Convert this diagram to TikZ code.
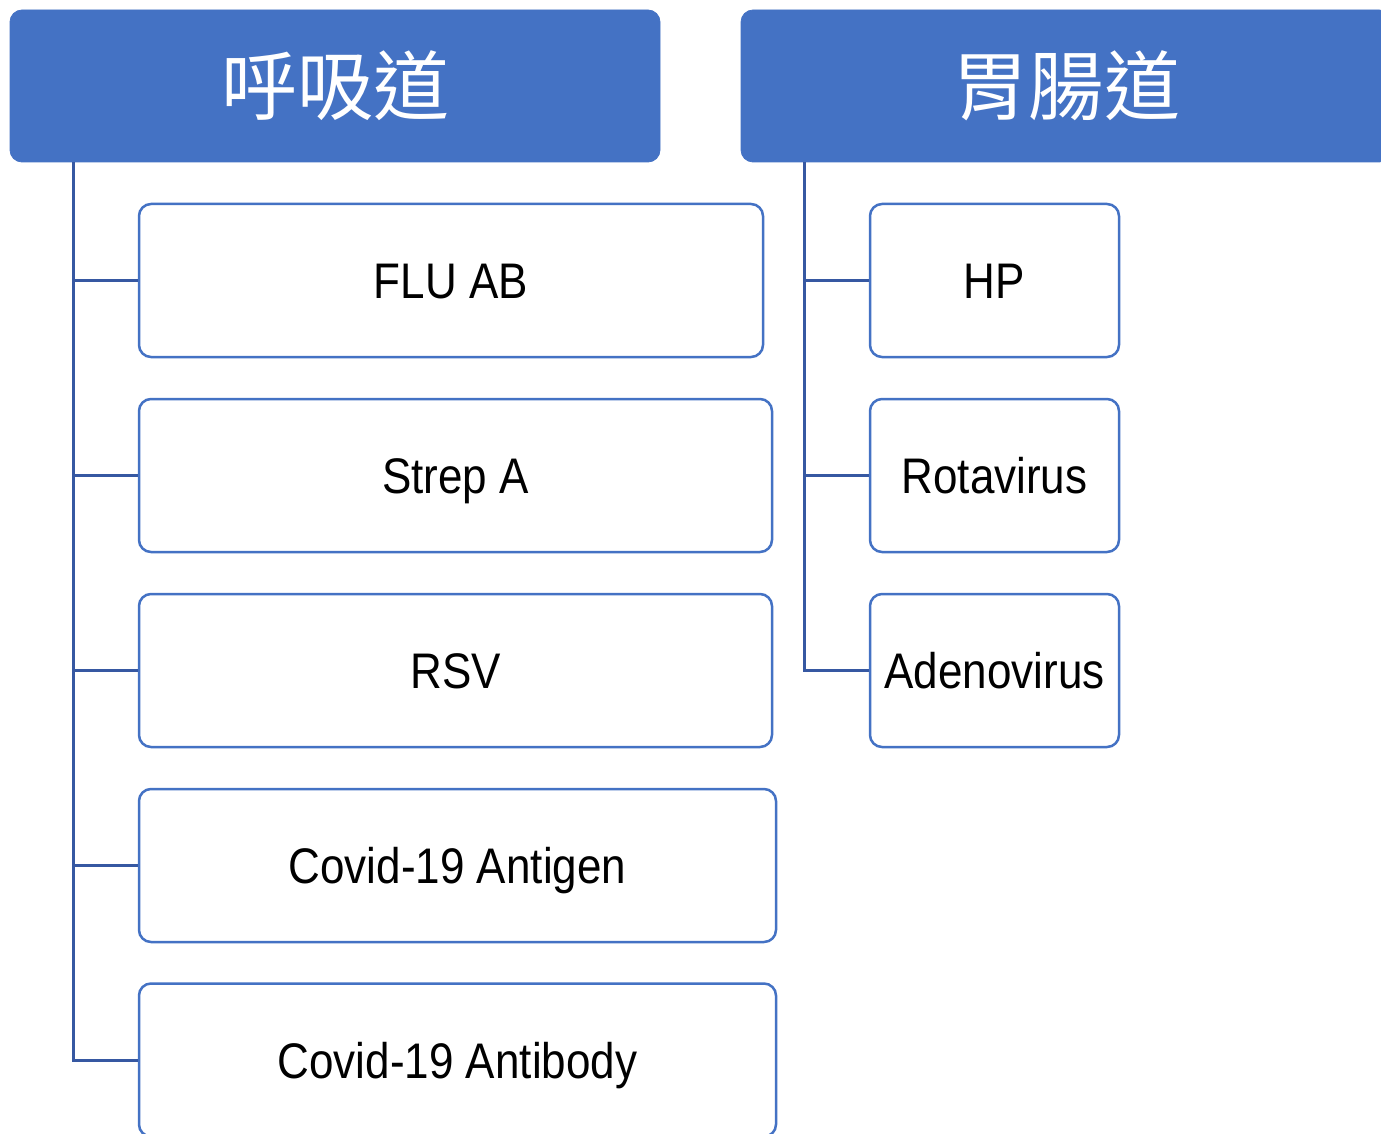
\documentclass[tikz,border=0pt]{standalone}
\usepackage{fontspec}
\setmainfont{Liberation Sans}[FakeStretch=0.88]
\newfontfamily\cjk{Noto Sans CJK TC}
\definecolor{hdr}{HTML}{4472C4}
\definecolor{conn}{RGB}{54,88,162}
\begin{document}
\begin{tikzpicture}[x=0.5pt,y=-0.5pt,
  header/.style={draw=hdr, fill=hdr, rounded corners=6pt, text=white,
    font=\cjk\fontsize{38}{40}\selectfont, minimum width=325pt,
    minimum height=76pt, inner sep=0pt},
  item/.style={draw=hdr, line width=1.25pt, fill=white, rounded corners=6pt,
    font=\fontsize{25}{28}\selectfont, minimum height=76.5pt, inner sep=0pt,
    text height=18pt, text depth=0pt},
  link/.style={draw=conn, line width=1.5pt}]
\useasboundingbox (0,0) rectangle (1381,1134);
\clip (0,0) rectangle (1381,1134);
% headers
\node[header] (h1) at (335,86) {呼吸道};
\node[header] (h2) at (1066,86) {胃腸道};
% left items
\node[item, minimum width=312pt] (flu) at (451,280.5) {FLU AB};
\node[item, minimum width=316.5pt] (strep) at (455.5,475.5) {Strep A};
\node[item, minimum width=316.5pt] (rsv) at (455.5,670.5) {RSV};
\node[item, minimum width=318.5pt] (cag) at (457.5,865.5) {Covid-19 Antigen};
\node[item, minimum width=318.5pt] (cab) at (457.5,1060) {Covid-19 Antibody};
% right items
\node[item, minimum width=124.5pt] (hp) at (994.5,280.5) {HP};
\node[item, minimum width=124.5pt] (rota) at (994.5,475.5) {Rotavirus};
\node[item, minimum width=124.5pt] (adeno) at (994.5,670.5) {Adenovirus};
% connectors
\foreach \c in {flu,strep,rsv,cag,cab}
  \draw[link] ([xshift=32pt]h1.south west) |- (\c.west);
\foreach \c in {hp,rota,adeno}
  \draw[link] ([xshift=32pt]h2.south west) |- (\c.west);
\end{tikzpicture}
\end{document}
